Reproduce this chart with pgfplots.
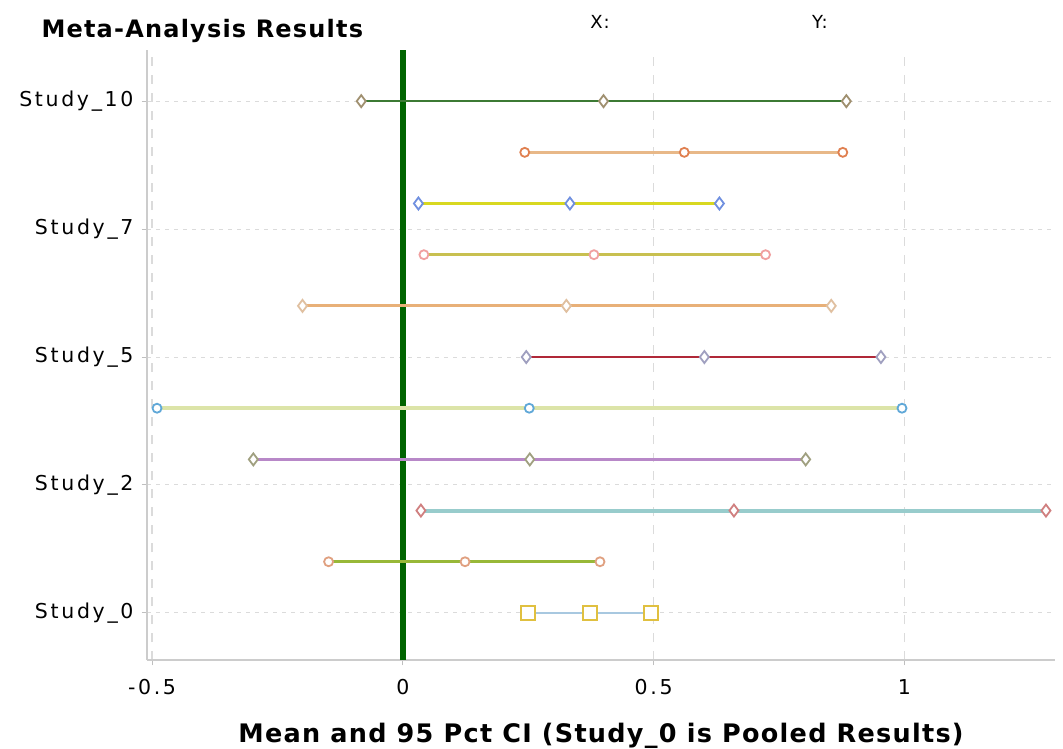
\documentclass[border=0pt]{standalone}
\usepackage{pgfplots}
\pgfplotsset{compat=1.18}
\usepackage{fontspec}
\setmainfont{DejaVu Sans}[LetterSpace=5]
\newfontfamily\tickfont{DejaVu Sans}[LetterSpace=13]
\definecolor{gline}{HTML}{006400}
\definecolor{c10}{HTML}{3C7A34}\definecolor{m10}{HTML}{A09070}
\definecolor{c9}{HTML}{E8B888}\definecolor{m9}{HTML}{E08050}
\definecolor{c8}{HTML}{D8D820}\definecolor{m8}{HTML}{7090E0}
\definecolor{c7}{HTML}{C8C050}\definecolor{m7}{HTML}{F0A0A0}
\definecolor{c6}{HTML}{E8B078}\definecolor{m6}{HTML}{E0C0A0}
\definecolor{c5}{HTML}{B02838}\definecolor{m5}{HTML}{A0A0C0}
\definecolor{c4}{HTML}{DCE4A8}\definecolor{m4}{HTML}{60A8D8}
\definecolor{c3}{HTML}{B888C8}\definecolor{m3}{HTML}{A0A080}
\definecolor{c2}{HTML}{98CCCC}\definecolor{m2}{HTML}{D08080}
\definecolor{c1}{HTML}{98B838}\definecolor{m1}{HTML}{E0A080}
\definecolor{c0}{HTML}{A8C8E0}\definecolor{m0}{HTML}{E0C040}
\begin{document}
\begin{tikzpicture}[x=1pt,y=1pt]
\useasboundingbox (0,0) rectangle (1063,748);
\fill[white] (0,0) rectangle (1063,748);
\begin{axis}[at={(147pt,88pt)}, anchor=south west, scale only axis,
  width=908pt, height=610pt,
  xmin=-0.51, xmax=1.30, ymin=-0.92, ymax=11,
  axis x line*=bottom, axis y line*=left,
  axis line style={draw=black!20, line width=1.2pt},
  xtick={-0.5,0,0.5,1}, xticklabels={-0.5,0,0.5,1},
  ytick={0,2.5,5,7.5,10},
  yticklabels={Study\_0,Study\_2,Study\_5,Study\_7,Study\_10},
  tick align=outside, major tick length=5pt,
  tick style={draw=black!25, line width=1pt},
  ticklabel style={font=\tickfont\fontsize{20.5}{24}\selectfont, text=black},
  yticklabel style={xshift=-5pt},
  xticklabel style={yshift=-11pt},
  grid=major,
  y grid style={draw=black!14, dash pattern=on 4pt off 5pt, line width=1pt},
  x grid style={draw=black!14, dash pattern=on 9pt off 9pt, line width=1.2pt},
  clip=false]
\addplot[gline, line width=6pt] coordinates {(0,-0.92) (0,11)};
\addplot[c10, line width=2.2pt, mark=diamond*, mark size=6pt, mark options={draw=m10, fill=white, line width=1.8pt}] coordinates {(-0.083,10) (0.400,10) (0.884,10)};
\addplot[c9, line width=3.5pt, mark=*, mark size=4.5pt, mark options={draw=m9, fill=white, line width=1.8pt}] coordinates {(0.243,9) (0.561,9) (0.877,9)};
\addplot[c8, line width=2.6pt, mark=diamond*, mark size=6pt, mark options={draw=m8, fill=white, line width=1.8pt}] coordinates {(0.031,8) (0.333,8) (0.631,8)};
\addplot[c7, line width=2.6pt, mark=*, mark size=4.5pt, mark options={draw=m7, fill=white, line width=1.8pt}] coordinates {(0.042,7) (0.381,7) (0.723,7)};
\addplot[c6, line width=2.8pt, mark=diamond*, mark size=6pt, mark options={draw=m6, fill=white, line width=1.8pt}] coordinates {(-0.200,6) (0.326,6) (0.854,6)};
\addplot[c5, line width=2.6pt, mark=diamond*, mark size=6pt, mark options={draw=m5, fill=white, line width=1.8pt}] coordinates {(0.246,5) (0.601,5) (0.953,5)};
\addplot[c4, line width=3.5pt, mark=*, mark size=4.5pt, mark options={draw=m4, fill=white, line width=1.8pt}] coordinates {(-0.490,4) (0.252,4) (0.995,4)};
\addplot[c3, line width=2.6pt, mark=diamond*, mark size=6pt, mark options={draw=m3, fill=white, line width=1.8pt}] coordinates {(-0.298,3) (0.253,3) (0.803,3)};
\addplot[c2, line width=4pt, mark=diamond*, mark size=6pt, mark options={draw=m2, fill=white, line width=1.8pt}] coordinates {(0.036,2) (0.660,2) (1.282,2)};
\addplot[c1, line width=2.6pt, mark=*, mark size=4.5pt, mark options={draw=m1, fill=white, line width=1.8pt}] coordinates {(-0.148,1) (0.124,1) (0.393,1)};
\addplot[c0, line width=2.2pt, mark=square*, mark size=7pt, mark options={draw=m0, fill=white, line width=2pt}] coordinates {(0.250,0) (0.373,0) (0.494,0)};
\end{axis}
\node[anchor=west, font=\bfseries\fontsize{24}{29}\selectfont] at (38,717) {Meta-Analysis Results};
\node[font=\fontsize{18}{22}\selectfont] at (600,726) {X:};
\node[font=\fontsize{18}{22}\selectfont] at (820,726) {Y:};
\node[font=\bfseries\fontsize{25.5}{31}\selectfont] at (601,12) {Mean and 95 Pct CI (Study\_0 is Pooled Results)};
\end{tikzpicture}
\end{document}
